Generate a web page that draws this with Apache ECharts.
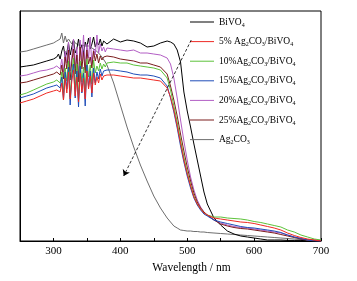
<!DOCTYPE html>
<html>
<head>
<meta charset="utf-8">
<script src="https://cdn.jsdelivr.net/npm/echarts@6/dist/echarts.min.js"></script>
<style>
  * { margin: 0; padding: 0; }
  body { background: #fff; }
</style>
</head>
<body>
<!-- chart container -->
<div id="main" style="width: 357px; height: 281px;"></div>
<script>
// wavelength (nm), shared by all curves
var wavelength = [250, 260, 270, 280, 290, 300,
  305, 307.5, 310, 312.5, 315, 317.5, 320, 322.5, 325, 327.5, 330, 332.5, 335, 337.5, 340, 342.5,
  345, 347.5, 350, 352.5, 355, 357.5, 360, 362.5, 365, 367.5, 370, 372.5, 375, 377.5, 380,
  390, 400, 410, 420, 430, 440, 450, 460, 470,
  475, 480, 485, 490, 495, 500, 505, 510, 515, 520, 525, 530,
  540, 550, 560, 570, 580, 590, 600, 610, 620, 630, 640, 650, 660, 670, 680, 690, 700];

// absorbance (a.u.)
var bivo4 = [87, 87.5, 88, 89, 90, 91,
  92, 93.5, 91, 95, 97.5, 92, 94, 99, 93, 97, 100.5, 94, 96, 101, 95.5, 98,
  93.5, 99.5, 97, 101.5, 96, 98.5, 102, 97, 99.5, 98, 101, 97.5, 100, 99, 98.5,
  101, 99.5, 100.5, 100, 99, 97, 97.5, 99, 100,
  99.5, 98.5, 95.5, 89.5, 74.5, 65, 57, 48.5, 40.5, 32.5, 24.5, 18.5,
  11.5, 8, 5, 3.5, 2.5, 2, 1.5, 1, 0.5, 0.5, 0.5, 0.3, 0.3, 0.3, 0, 0, 0];
var ag5 = [69, 70, 71, 72.5, 74, 75,
  75.5, 76.5, 74.5, 79, 70.5, 81.5, 74, 84.5, 71, 80, 85.5, 72.5, 82, 69.5, 84, 74.5,
  81.5, 71, 85, 76, 82.5, 74, 84, 78, 82, 79, 83.5, 80.5, 82.5, 81.5, 83,
  83, 82.5, 82, 81.5, 81.5, 81, 80.5, 80, 76.5,
  72, 65.5, 57.5, 49, 40.5, 33.5, 27.5, 22, 18.5, 16, 14, 13,
  11.5, 11, 10.5, 10, 9.5, 9.25, 8.75, 8, 7.25, 6.5, 5.5, 4, 2.75, 1.75, 1, 0.5, 0];
var ag10 = [73, 74, 75.5, 77, 78.5, 79.5,
  80.5, 81, 79, 84.5, 74, 86.5, 80, 90, 72, 85, 91.5, 76, 88.5, 71, 90, 79.5,
  87, 74.5, 91, 82, 88, 78.5, 90.5, 84, 87.5, 85, 89, 86, 88.5, 87, 89,
  89.5, 89, 89, 88, 87.5, 87, 86.5, 85.5, 81.5,
  75.5, 67.5, 59.5, 50.5, 42, 34.5, 28, 22.5, 18.5, 16, 14, 13,
  12, 12, 11.5, 11.25, 11, 10.5, 9.75, 9.25, 8.5, 7.75, 7, 5.5, 4.5, 3, 2, 1, 0.5];
var ag15 = [71.5, 72.5, 73.5, 75, 76.5, 77.5,
  78, 79, 76.5, 82, 70.5, 84.5, 76, 87, 68, 82.5, 88.5, 71.5, 85, 67, 87.5, 74,
  84, 67.5, 88, 77, 85, 72, 86.5, 79, 84.5, 81, 86, 82.5, 85, 84, 85.5,
  85.5, 85, 84.5, 83.5, 83, 83, 82.5, 81.5, 77.5,
  71.5, 64.5, 56.5, 47.5, 39.5, 32.5, 26.5, 21.5, 18, 15.5, 13.5, 12.5,
  10.5, 9.5, 8.75, 8, 7.25, 6.75, 6.5, 6, 5.5, 5, 4.25, 3, 2, 1.25, 0.5, 0, 0];
var ag20 = [82.5, 83, 84, 85, 85.5, 86.5,
  87.5, 88.5, 86, 91, 84.5, 95, 89, 99.5, 85, 92, 101, 86.5, 97, 82, 100.5, 90,
  103, 85.5, 98.5, 91.5, 102, 88, 96, 93, 103, 94, 98.5, 95, 97, 94.5, 96.5,
  96, 95.5, 95, 95.5, 94, 94, 93.5, 93, 91.5,
  88.5, 81.5, 71.5, 60.5, 50, 40.5, 32, 25.5, 20.5, 17, 14.5, 13,
  10.5, 9, 8, 7.25, 6.75, 6.5, 6, 5.5, 5, 4.5, 4, 3, 2, 1.25, 0.5, 0.25, 0];
var ag25 = [79, 79.5, 80.5, 81.5, 82.5, 83.5,
  84.5, 85.5, 83, 88, 81, 92, 86, 95.5, 80.5, 90, 96, 83.5, 93, 79.5, 97, 86,
  94.5, 84, 95.5, 88.5, 92, 86.5, 95, 90, 93.5, 89, 92.5, 90.5, 92, 91, 92.5,
  92, 91, 90.5, 90, 89, 89, 88, 87, 83.5,
  77.5, 70.5, 62.5, 53.5, 45, 37, 30, 24, 19.5, 16.5, 14.5, 13,
  10.5, 8.5, 7.5, 6.75, 6.25, 6, 5.5, 5, 4.5, 4, 3.25, 2.5, 1.75, 1, 0.5, 0.25, 0];
var ag2co3 = [94.5, 95, 96, 97, 98, 99,
  100, 100.5, 101, 104, 99, 102.5, 99.5, 101, 100, 98.5, 100.5, 99, 100, 98, 99, 98,
  98.5, 97.5, 98, 97.5, 97, 96.5, 96, 95.5, 95, 94, 93, 92, 91, 89.5, 88,
  79, 68, 57, 47, 38, 30, 22.5, 16.5, 11.5,
  9.5, 7.5, 6.5, 5.5, 5.25, 5, 5, 4.75, 4.75, 4.5, 4.5, 4.25,
  4, 3.75, 3.5, 3.25, 3, 2.75, 2.5, 2.25, 2, 1.75, 1.5, 1.25, 1, 0.75, 0.5, 0.5, 0.25];

var names = ["BiVO4", "5% Ag2CO3/BiVO4", "10%Ag2CO3/BiVO4", "15%Ag2CO3/BiVO4",
             "20%Ag2CO3/BiVO4", "25%Ag2CO3/BiVO4", "Ag2CO3"];
var curves = [bivo4, ag5, ag10, ag15, ag20, ag25, ag2co3];
var colors = ["#000000", "#ee2a24", "#5cc23a", "#1f4db8", "#b25ec4", "#7a1c1c", "#6e6e6e"];

// dashed trend arrow [nm, a.u.]
var arrowStart = [506, 100.5];
var arrowEnd = [405, 32.5];

var font = "Liberation Serif";

function pairs(arr) {
  return wavelength.map(function (w, i) { return [w, arr[i]]; });
}

var series = [];
// gray reference and black first, colored ones on top
[6, 0, 4, 5, 2, 3, 1].forEach(function (k) {
  var s = {
    name: names[k],
    type: "line",
    symbol: "none",
    data: pairs(curves[k]),
    lineStyle: { width: 1, color: colors[k] },
    itemStyle: { color: colors[k] }
  };
  if (k === 6) {
    s.markLine = {
      silent: true,
      symbol: ["none", "arrow"],
      symbolSize: 6,
      label: { show: false },
      lineStyle: { type: [3, 2], color: "#000", width: 0.8 },
      data: [[{ coord: arrowStart }, { coord: arrowEnd }]]
    };
  }
  series.push(s);
});

var chart = echarts.init(document.getElementById("main"));
chart.setOption({
  animation: false,
  backgroundColor: "#fff",
  grid: {
    left: 20, top: 11, right: 36, bottom: 40,
    show: true, borderColor: "#000", borderWidth: 1
  },
  legend: {
    orient: "vertical",
    left: 190,
    top: 16,
    padding: 0,
    icon: "rect",
    itemWidth: 24,
    itemHeight: 1,
    itemGap: 7.6,
    data: names,
    formatter: function (name) {
      return name.replace(/([A-Za-z])(\d)/g, "$1{s|$2}");
    },
    textStyle: {
      fontFamily: font,
      fontSize: 9.5,
      color: "#000",
      lineHeight: 12,
      rich: {
        s: { fontFamily: font, fontSize: 6, lineHeight: 6, verticalAlign: "bottom", color: "#000" }
      }
    }
  },
  xAxis: {
    type: "value",
    min: 250,
    max: 700,
    interval: 50,
    name: "Wavelength / nm",
    nameLocation: "middle",
    nameGap: 21,
    nameTextStyle: { fontFamily: font, fontSize: 11.5, color: "#000", padding: [0, 0, 0, 42] },
    axisLine: { lineStyle: { color: "#000", width: 1 } },
    axisTick: { inside: true, length: 3, lineStyle: { color: "#000" } },
    axisLabel: {
      fontFamily: font, fontSize: 11, color: "#000", margin: 5,
      formatter: function (v) { return v % 100 === 0 && v > 250 ? String(v) : ""; }
    },
    splitLine: { show: false }
  },
  yAxis: {
    type: "value",
    min: 0,
    max: 115,
    axisLine: { show: true, lineStyle: { color: "#000", width: 1 } },
    axisTick: { show: false },
    axisLabel: { show: false },
    splitLine: { show: false }
  },
  series: series
});
</script>
</body>
</html>
